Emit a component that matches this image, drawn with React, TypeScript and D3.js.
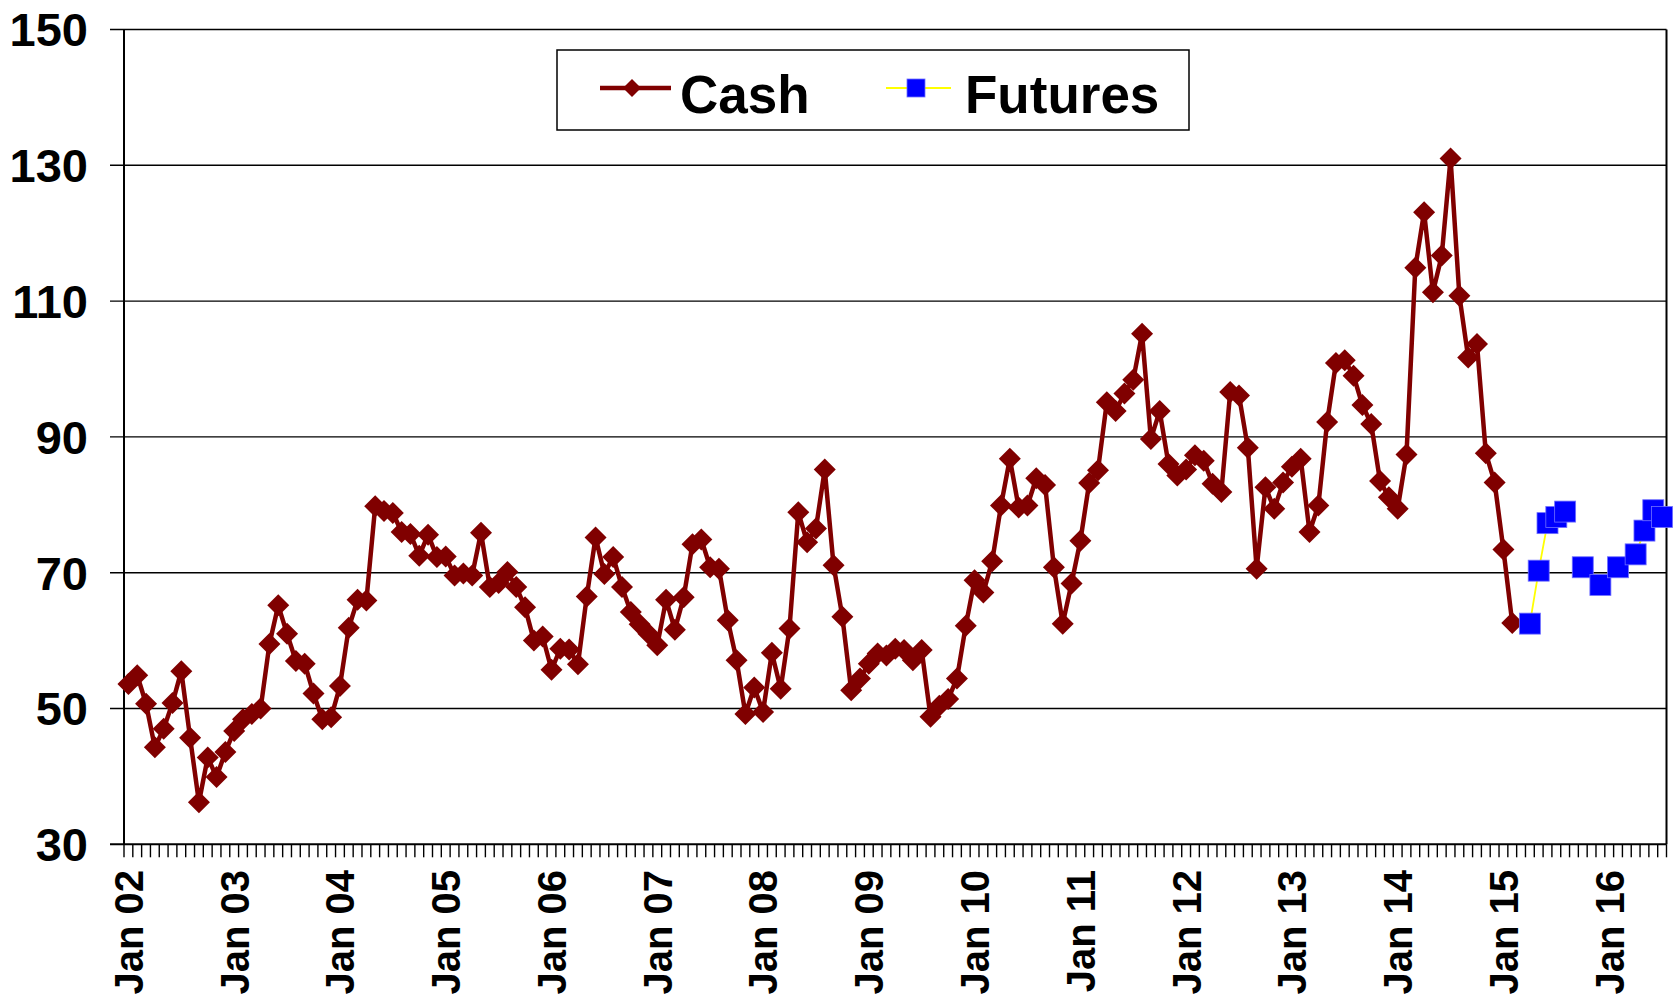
import React from 'react';
import * as d3 from 'd3';

// ---------- data ----------
const months = d3.timeMonth.range(new Date(2002, 0, 1), new Date(2016, 7, 1));
const fmtMonth = d3.timeFormat('%b %y');
const categories: string[] = months.map((d) => fmtMonth(d));

const cashValues: number[] = [
  53.6, 54.9, 50.7, 44.3, 47.0, 50.8, 55.5, 45.7, 36.2, 42.8, 39.9, 43.6,
  46.7, 48.4, 49.2, 50.0, 59.5, 65.2, 61.0, 57.0, 56.6, 52.2, 48.4, 48.7,
  53.3, 61.9, 66.0, 65.9, 79.8, 79.1, 78.8, 76.0, 75.7, 72.5, 75.6, 72.3,
  72.4, 69.6, 69.9, 69.6, 75.9, 67.9, 68.5, 70.1, 67.9, 64.9, 60.0, 60.6,
  55.7, 58.8, 58.7, 56.5, 66.5, 75.2, 69.8, 72.3, 67.9, 64.2, 62.4, 61.0,
  59.3, 66.0, 61.6, 66.4, 74.2, 74.9, 70.8, 70.6, 63.0, 57.1, 49.2, 53.1,
  49.5, 58.2, 52.9, 61.8, 78.9, 74.5, 76.5, 85.2, 71.1, 63.5, 52.7, 54.4,
  56.6, 58.1, 57.8, 58.8, 58.6, 57.1, 58.6, 48.8, 50.4, 51.4, 54.4, 62.2,
  68.9, 67.1, 71.7, 79.9, 86.8, 79.6, 79.9, 83.9, 82.9, 70.8, 62.5, 68.4,
  74.7, 83.2, 85.1, 95.1, 93.8, 96.4, 98.4, 105.2, 89.7, 93.8, 86.0, 84.3,
  85.2, 87.3, 86.5, 83.1, 81.9, 96.6, 96.1, 88.4, 70.6, 82.6, 79.4, 83.3,
  85.6, 86.8, 76.0, 79.9, 92.2, 100.9, 101.3, 99.0, 94.7, 91.9, 83.5, 81.1,
  79.4, 87.4, 114.9, 123.1, 111.3, 116.7, 131.0, 110.8, 101.7, 103.7, 87.6, 83.3,
  73.4, 62.6,
];

const futuresMonths: string[] = [
  'Apr 15', 'May 15', 'Jun 15', 'Jul 15', 'Aug 15', 'Oct 15',
  'Dec 15', 'Feb 16', 'Apr 16', 'May 16', 'Jun 16', 'Jul 16',
];
const futuresValues: number[] = [62.5, 70.3, 77.3, 78.2, 79.0, 70.8, 68.2, 70.8, 72.7, 76.2, 79.2, 78.2];

const yTicks: number[] = [30, 50, 70, 90, 110, 130, 150];
const seriesNames: string[] = ['Cash', 'Futures'];

// ---------- layout ----------
const W = 1675;
const H = 1004;
const left = 124;
const right = 1666.5;
const top = 29.5;
const bottom = 844.3;
const FONT = "'Liberation Sans', Arial, Helvetica, sans-serif";
const CASH = '#800000';
const FUT_FILL = '#0000FF';
const FUT_LINE = '#FFFF00';

export default function App() {
  const x = d3.scaleBand<string>().domain(categories).range([left, right]).padding(0);
  const bw = x.bandwidth();
  const cx = (c: string) => (x(c) as number) + bw / 2;
  const y = d3.scaleLinear().domain([30, 150]).range([bottom, top]);

  const cashPts = cashValues.map((v, i) => ({ c: categories[i], v }));
  const futMap = new Map<string, number>();
  futuresMonths.forEach((m, i) => futMap.set(m, futuresValues[i]));
  const futFull = categories.map((c) => ({ c, v: futMap.has(c) ? (futMap.get(c) as number) : null }));
  const firstFut = categories.indexOf(futuresMonths[0]);
  const futSeries = futFull.slice(firstFut);
  const futPts = futSeries.filter((d) => d.v !== null) as { c: string; v: number }[];

  const cashLine = d3
    .line<{ c: string; v: number }>()
    .x((d) => cx(d.c))
    .y((d) => y(d.v));
  const futLine = d3
    .line<{ c: string; v: number | null }>()
    .defined((d) => d.v !== null)
    .x((d) => cx(d.c))
    .y((d) => y(d.v as number));

  const dm = 11; // diamond half-diagonal
  const sq = 21; // square size
  const diamond = (px: number, py: number, r: number) =>
    `M${px},${py - r}L${px + r},${py}L${px},${py + r}L${px - r},${py}Z`;

  const tickBounds = d3.range(categories.length + 1).map((k) => left + k * bw);
  const janLabels = categories.filter((c) => c.startsWith('Jan'));

  // legend
  const lg = { x0: 557, y0: 50, x1: 1189, y1: 130 };
  const legendY = 88;

  return (
    <svg
      width={W}
      height={H}
      viewBox={`0 0 ${W} ${H}`}
      style={{ position: 'absolute', left: 0, top: 0, background: '#fff' }}
      fontFamily={FONT}
    >
      <rect x={0} y={0} width={W} height={H} fill="#fff" />
      {/* gridlines + y ticks */}
      {yTicks.map((t) => (
        <line
          key={'g' + t}
          x1={110}
          x2={right}
          y1={y(t)}
          y2={y(t)}
          stroke="#000"
          strokeWidth={t === 30 ? 2 : 1.4}
        />
      ))}
      {/* y labels */}
      {yTicks.map((t) => (
        <text
          key={'yl' + t}
          x={88}
          y={y(t)}
          dy="0.36em"
          textAnchor="end"
          fontSize={47}
          fontWeight="bold"
          fill="#000"
        >
          {t}
        </text>
      ))}
      {/* axes & border */}
      <line x1={left} x2={left} y1={top} y2={bottom} stroke="#000" strokeWidth={2} />
      <line x1={right} x2={right} y1={top} y2={bottom} stroke="#000" strokeWidth={2} />
      {/* x ticks */}
      {tickBounds.map((tx, k) => (
        <line key={'xt' + k} x1={tx} x2={tx} y1={bottom} y2={bottom + 13} stroke="#000" strokeWidth={1.4} />
      ))}
      {/* x labels */}
      {janLabels.map((c) => (
        <text
          key={'xl' + c}
          transform={`translate(${cx(c)},870) rotate(-90)`}
          textAnchor="end"
          dy="0.36em"
          fontSize={40}
          fontWeight="bold"
          fill="#000"
        >
          {c}
        </text>
      ))}

      {/* cash series */}
      <path d={cashLine(cashPts) as string} fill="none" stroke={CASH} strokeWidth={4.5} strokeLinejoin="round" />
      {cashPts.map((d) => (
        <path key={'cm' + d.c} d={diamond(cx(d.c), y(d.v), dm)} fill={CASH} />
      ))}

      {/* futures series */}
      <path d={futLine(futSeries) as string} fill="none" stroke={FUT_LINE} strokeWidth={1.8} />
      {futPts.map((d) => (
        <rect
          key={'fm' + d.c}
          x={cx(d.c) - sq / 2}
          y={y(d.v) - sq / 2}
          width={sq}
          height={sq}
          fill={FUT_FILL}
          stroke="#7070ff"
          strokeWidth={0.8}
        />
      ))}

      {/* legend */}
      <rect x={lg.x0} y={lg.y0} width={lg.x1 - lg.x0} height={lg.y1 - lg.y0} fill="#fff" stroke="#000" strokeWidth={1.5} />
      <line x1={600} x2={671} y1={legendY} y2={legendY} stroke={CASH} strokeWidth={4.5} />
      <path d={diamond(632, legendY, 9)} fill={CASH} />
      <text x={680} y={113} fontSize={53} fontWeight="bold" fill="#000">
        {seriesNames[0]}
      </text>
      <line x1={886} x2={951} y1={legendY} y2={legendY} stroke={FUT_LINE} strokeWidth={1.8} />
      <rect x={916 - 9} y={legendY - 9} width={18} height={18} fill={FUT_FILL} stroke="#7070ff" strokeWidth={0.8} />
      <text x={965} y={113} fontSize={53} fontWeight="bold" fill="#000">
        {seriesNames[1]}
      </text>
    </svg>
  );
}
